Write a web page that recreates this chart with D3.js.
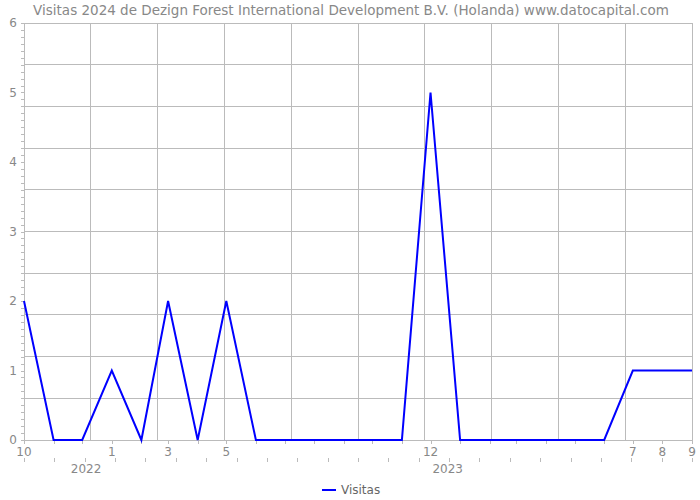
<!DOCTYPE html>
<html><head><meta charset="utf-8">
<script src="https://cdn.jsdelivr.net/npm/d3@7"></script>
<style>body{margin:0;background:#fff}svg{display:block}text{font-family:"DejaVu Sans",sans-serif}</style>
</head><body><svg id="c" width="700" height="500"></svg>
<script>
const titleText = "Visitas 2024 de Dezign Forest International Development B.V. (Holanda) www.datocapital.com";
const months = ["2021-10","2021-11","2021-12","2022-01","2022-02","2022-03","2022-04","2022-05","2022-06","2022-07","2022-08","2022-09","2022-10","2022-11","2022-12","2023-01","2023-02","2023-03","2023-04","2023-05","2023-06","2023-07","2023-08","2023-09"];
const visitas = [2,0,0,1,0,2,0,2,0,0,0,0,0,0,5,0,0,0,0,0,0,1,1,1];
const labeledMonths = ["2021-10","2022-01","2022-03","2022-05","2022-12","2023-07","2023-08","2023-09"];
const yearLabels = [{text:"2022", date:"2021-12-05"},{text:"2023", date:"2022-12-19"}];
const yTicks = [0,1,2,3,4,5,6];
const seriesName = "Visitas";

const parse = d3.timeParse("%Y-%m");
const parseD = d3.timeParse("%Y-%m-%d");
const dates = months.map(parse);
const data = dates.map((d,i)=>({d, v:visitas[i]}));

const L=24, R=692, T=23, B=440;
const x = d3.scaleTime().domain([dates[0], dates[dates.length-1]]).range([L,R]);
const y = d3.scaleLinear().domain([0,6]).range([B,T]);
const svg = d3.select("#c");
const grey="#bbbbbb", txt="#888888";

// grid: 10 equal divisions each way
const gx = d3.scaleLinear().domain([0,10]).range([L,R]);
const gy = d3.scaleLinear().domain([0,10]).range([B,T]);
svg.append("g").selectAll("line").data(d3.range(1,11)).join("line")
  .attr("x1",d=>gx(d)).attr("x2",d=>gx(d)).attr("y1",T).attr("y2",B)
  .attr("stroke",grey).attr("stroke-width",1).attr("shape-rendering","crispEdges");
svg.append("g").selectAll("line").data(d3.range(0,11)).join("line")
  .attr("x1",L).attr("x2",R).attr("y1",d=>gy(d)).attr("y2",d=>gy(d))
  .attr("stroke",grey).attr("stroke-width",1).attr("shape-rendering","crispEdges");

// y axis
const ya = svg.append("g").attr("transform",`translate(${L},0)`);
ya.append("line").attr("x1",0).attr("x2",0).attr("y1",T).attr("y2",B).attr("stroke",grey).attr("shape-rendering","crispEdges");
ya.selectAll("line.m").data(d3.range(0,61)).join("line").attr("class","m")
  .attr("x1",-3).attr("x2",0).attr("y1",d=>Math.round(y(d/10))+0.5).attr("y2",d=>Math.round(y(d/10))+0.5)
  .attr("stroke",grey);
ya.selectAll("text").data(yTicks).join("text")
  .attr("x",-7).attr("y",d=>y(d)).attr("dy","0.35em").attr("text-anchor","end")
  .attr("font-size",12).attr("fill",txt).text(d=>d);

// x axis
const xa = svg.append("g");
xa.append("line").attr("x1",L).attr("x2",R).attr("y1",B+0.5).attr("y2",B+0.5).attr("stroke",grey);
xa.selectAll("line.mt").data(dates).join("line").attr("class","mt")
  .attr("x1",d=>Math.round(x(d))+0.5).attr("x2",d=>Math.round(x(d))+0.5).attr("y1",B).attr("y2",B+4).attr("stroke",grey);
xa.selectAll("text.ml").data(labeledMonths.map(parse)).join("text").attr("class","ml")
  .attr("x",d=>x(d)).attr("y",456).attr("text-anchor","middle").attr("font-size",12).attr("fill",txt)
  .text(d=>d3.timeFormat("%-m")(d));
const lowTicks = d3.scaleLinear().domain([0,22]).range([L,R]);
xa.selectAll("line.lt").data(d3.range(0,23)).join("line").attr("class","lt")
  .attr("x1",d=>Math.round(lowTicks(d))+0.5).attr("x2",d=>Math.round(lowTicks(d))+0.5).attr("y1",458).attr("y2",462).attr("stroke",grey);
xa.selectAll("text.yr").data(yearLabels).join("text").attr("class","yr")
  .attr("x",d=>x(parseD(d.date))).attr("y",473).attr("text-anchor","middle").attr("font-size",12).attr("fill",txt).text(d=>d.text);

// line
svg.append("path").datum(data)
  .attr("d", d3.line().x(d=>x(d.d)).y(d=>y(d.v)))
  .attr("fill","none").attr("stroke","#0000ff").attr("stroke-width",2);

// title
svg.append("text").attr("x",351).attr("y",15).attr("text-anchor","middle").attr("font-size",13.5).attr("fill","#888").text(titleText);

// legend
const lg = svg.append("g");
lg.append("line").attr("x1",322).attr("x2",336).attr("y1",490).attr("y2",490).attr("stroke","#0000ff").attr("stroke-width",2);
lg.append("text").attr("x",341).attr("y",494).attr("font-size",12).attr("fill","#666").text(seriesName);
</script></body></html>
